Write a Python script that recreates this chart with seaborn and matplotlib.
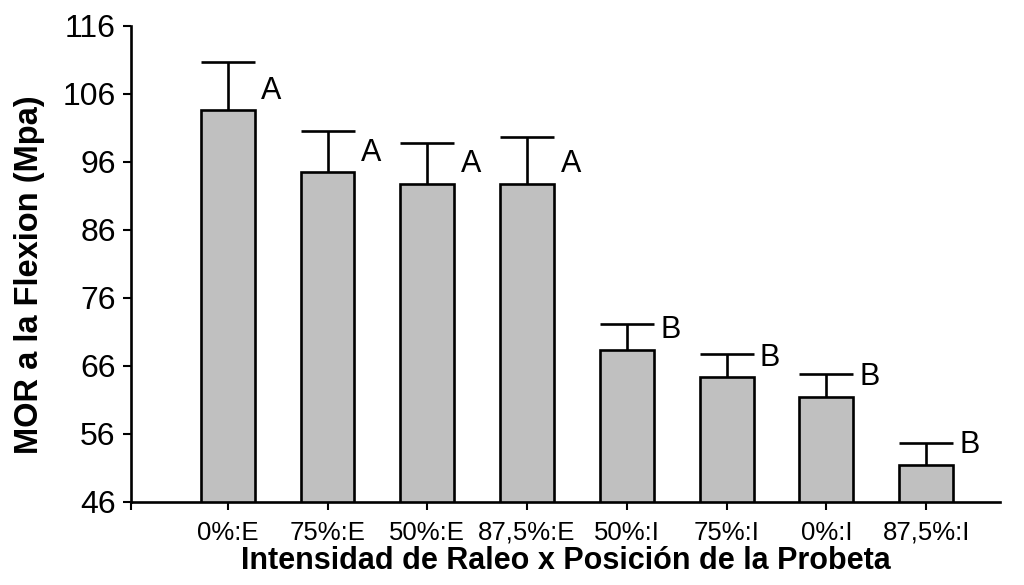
import numpy as np
import seaborn as sns
from matplotlib import pyplot as plt


# Data
groups = ["0%:E", "75%:E", "50%:E", "87,5%:E", "50%:I", "75%:I", "0%:I", "87,5%:I"]
mor_mean = [103.6, 94.5, 92.8, 92.8, 68.4, 64.3, 61.5, 51.5]
mor_err = [7.1, 6.0, 6.0, 6.9, 3.7, 3.4, 3.3, 3.1]
letters = ["A", "A", "A", "A", "B", "B", "B", "B"]
y_ticks = [46, 56, 66, 76, 86, 96, 106, 116]

sns.set_style("ticks")
plt.rcParams["font.family"] = ["Liberation Sans", "DejaVu Sans"]
plt.rcParams["text.color"] = "black"
plt.rcParams["axes.labelcolor"] = "black"
plt.rcParams["xtick.color"] = "black"
plt.rcParams["ytick.color"] = "black"

fig = plt.figure(figsize=(10.24, 5.85), dpi=100)
ax = fig.add_axes([0.1279, 0.1419, 0.8486, 0.8142])

# Bars
sns.barplot(x=groups, y=mor_mean, color="#C0C0C0", saturation=1,
            edgecolor="black", linewidth=1.9, width=0.54,
            errorbar=None, ax=ax, zorder=2)

# Upward-only error bars (drop the lower caps)
pos = np.arange(len(groups))
_, caps, _ = ax.errorbar(pos, mor_mean, yerr=[np.zeros(len(mor_err)), mor_err],
                         fmt="none", ecolor="black", elinewidth=1.9,
                         capsize=19.5, capthick=1.9, zorder=1)
caps[0].remove()

# Significance letters
for x, m, lab in zip(pos, mor_mean, letters):
    ax.text(x + 0.335, m + 2.85, lab, fontsize=22, ha="left", va="center")

# Axes
left_edge = -0.97
ax.set_xlim(left_edge, 7.74)
ax.set_ylim(46, 116)
ax.set_yticks(y_ticks)
ax.set_xticks([left_edge] + list(pos))
ax.set_xticklabels([""] + groups)

ax.tick_params(axis="y", labelsize=23, length=6, width=1.5, pad=5, direction="out")
ax.tick_params(axis="x", labelsize=18.5, length=6, width=1.5, pad=7.5, direction="out")

for s in ["top", "right"]:
    ax.spines[s].set_visible(False)
for s in ["left", "bottom"]:
    ax.spines[s].set_linewidth(1.9)
    ax.spines[s].set_color("black")

ax.set_ylabel("MOR a la Flexion (Mpa)", fontsize=23.5, fontweight="bold")
ax.yaxis.set_label_coords(-0.099, 0.4766)
ax.set_xlabel("Intensidad de Raleo x Posición de la Probeta", fontsize=22,
              fontweight="bold", labelpad=1)

fig.savefig("out.png", dpi=100)
